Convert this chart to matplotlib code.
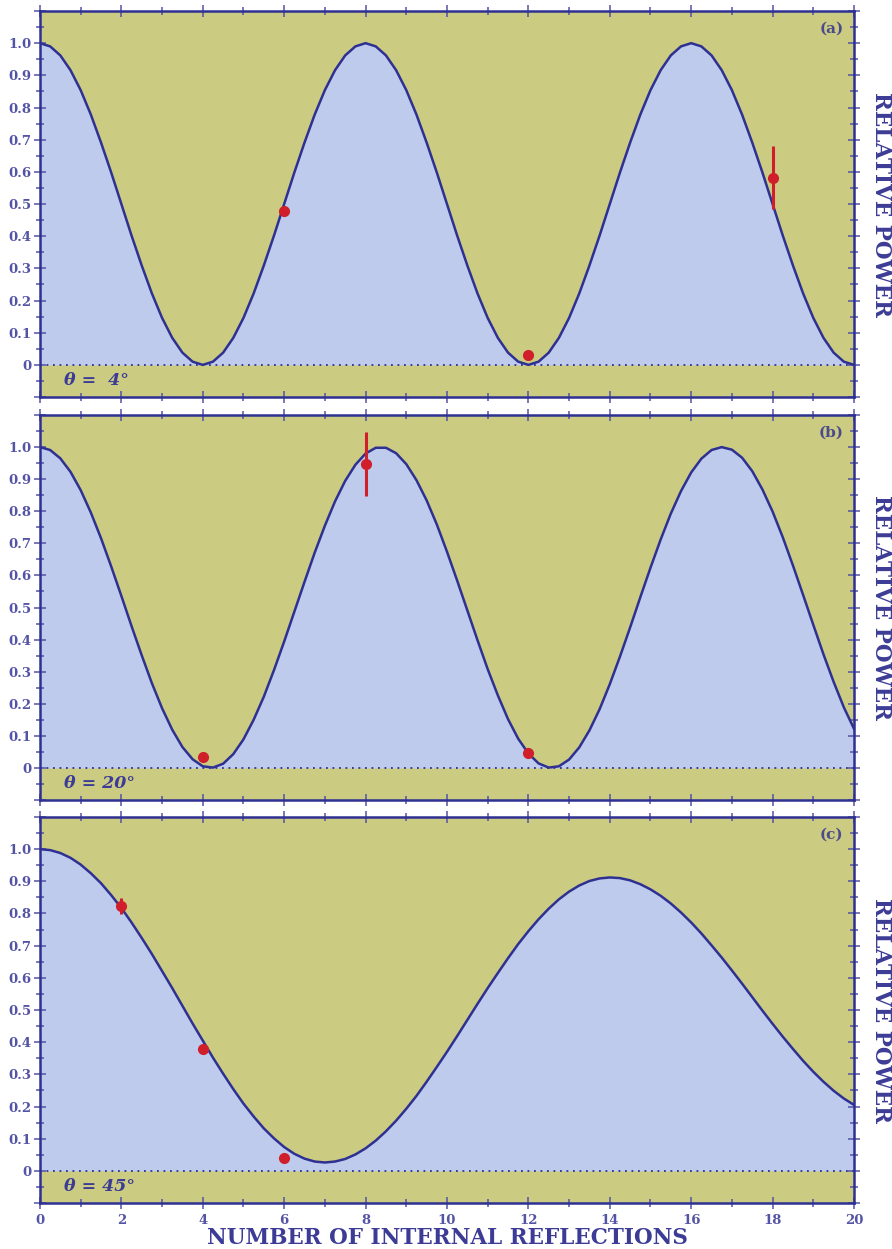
import numpy as np
import matplotlib
matplotlib.use('Agg')
import matplotlib.pyplot as plt
from matplotlib.ticker import MultipleLocator, FixedLocator, FixedFormatter

# number of internal reflections (curve samples, every quarter step)
n_vals = np.linspace(0, 20, 81)

power_a = [1.000, 0.990, 0.962, 0.916, 0.854, 0.778, 0.691, 0.598, 0.500, 0.402,
           0.309, 0.222, 0.146, 0.084, 0.038, 0.010, 0.000, 0.010, 0.038, 0.084,
           0.146, 0.222, 0.309, 0.402, 0.500, 0.598, 0.691, 0.778, 0.854, 0.916,
           0.962, 0.990, 1.000, 0.990, 0.962, 0.916, 0.854, 0.778, 0.691, 0.598,
           0.500, 0.402, 0.309, 0.222, 0.146, 0.084, 0.038, 0.010, 0.000, 0.010,
           0.038, 0.084, 0.146, 0.222, 0.309, 0.402, 0.500, 0.598, 0.691, 0.778,
           0.854, 0.916, 0.962, 0.990, 1.000, 0.990, 0.962, 0.916, 0.854, 0.778,
           0.691, 0.598, 0.500, 0.402, 0.309, 0.222, 0.146, 0.084, 0.038, 0.010,
           0.000]

power_b = [1.000, 0.991, 0.965, 0.923, 0.866, 0.796, 0.716, 0.628, 0.536, 0.442,
           0.351, 0.264, 0.186, 0.119, 0.065, 0.027, 0.005, 0.001, 0.013, 0.043,
           0.089, 0.150, 0.222, 0.305, 0.394, 0.487, 0.580, 0.671, 0.755, 0.831,
           0.895, 0.945, 0.980, 0.998, 0.998, 0.981, 0.947, 0.897, 0.834, 0.759,
           0.674, 0.584, 0.491, 0.398, 0.308, 0.226, 0.152, 0.091, 0.045, 0.014,
           0.001, 0.005, 0.026, 0.064, 0.117, 0.183, 0.261, 0.347, 0.438, 0.532,
           0.624, 0.712, 0.793, 0.863, 0.921, 0.964, 0.991, 1.000, 0.992, 0.967,
           0.925, 0.868, 0.799, 0.719, 0.631, 0.539, 0.446, 0.354, 0.268, 0.189,
           0.122]

power_c = [1.000, 0.997, 0.988, 0.973, 0.952, 0.925, 0.894, 0.857, 0.817, 0.772,
           0.724, 0.674, 0.621, 0.568, 0.513, 0.458, 0.405, 0.352, 0.302, 0.254,
           0.209, 0.169, 0.132, 0.101, 0.074, 0.053, 0.038, 0.029, 0.026, 0.029,
           0.037, 0.051, 0.070, 0.094, 0.123, 0.156, 0.193, 0.233, 0.277, 0.323,
           0.370, 0.419, 0.469, 0.519, 0.568, 0.615, 0.661, 0.705, 0.745, 0.782,
           0.815, 0.844, 0.868, 0.887, 0.901, 0.909, 0.912, 0.910, 0.903, 0.891,
           0.875, 0.855, 0.831, 0.803, 0.772, 0.738, 0.701, 0.663, 0.623, 0.582,
           0.540, 0.498, 0.457, 0.417, 0.379, 0.342, 0.308, 0.277, 0.249, 0.225,
           0.205]

# measured points
meas_n_a = [6, 12, 18]
meas_p_a = [0.477, 0.031, 0.582]
meas_e_a = [0.015, 0.0, 0.097]

meas_n_b = [4, 8, 12]
meas_p_b = [0.033, 0.947, 0.047]
meas_e_b = [0.0, 0.100, 0.0]

meas_n_c = [2, 4, 6]
meas_p_c = [0.823, 0.380, 0.039]
meas_e_c = [0.025, 0.0, 0.0]

panel_tags = ['(a)', '(b)', '(c)']
angle_labels = ['θ =  4°', 'θ = 20°', 'θ = 45°']

y_major = [-0.1, 0, 0.1, 0.2, 0.3, 0.4, 0.5, 0.6, 0.7, 0.8, 0.9, 1.0, 1.1]
y_labels = ['', '0', '0.1', '0.2', '0.3', '0.4', '0.5', '0.6', '0.7', '0.8', '0.9', '1.0', '']

olive = '#CBCB82'
light_blue = '#BECBEC'
navy = '#2E3092'
tick_col = '#5454A6'
text_col = '#3C3C96'
red = '#D01F2A'

plt.rcParams['font.family'] = ['DejaVu Serif']
plt.rcParams['font.weight'] = 'bold'

fig = plt.figure(figsize=(8.92, 12.49), dpi=100)

boxes = [[0.0448, 0.6821, 0.9126, 0.3091],
         [0.0448, 0.3595, 0.9126, 0.3082],
         [0.0448, 0.0368, 0.9126, 0.3091]]

curves = [power_a, power_b, power_c]
points = [(meas_n_a, meas_p_a, meas_e_a),
          (meas_n_b, meas_p_b, meas_e_b),
          (meas_n_c, meas_p_c, meas_e_c)]

for i in range(3):
    ax = fig.add_axes(boxes[i])
    ax.set_facecolor(olive)
    p = curves[i]
    ax.fill_between(n_vals, 0, p, color=light_blue, lw=0, zorder=1)
    ax.plot(n_vals, p, color=navy, lw=1.8, zorder=3, solid_joinstyle='round')
    ax.axhline(0, color=navy, lw=1.3, ls=(0, (1, 2.6)), zorder=2)

    mn, mp, me = points[i]
    ax.errorbar(mn, mp, yerr=me, fmt='o', color=red, ms=7, elinewidth=2.2,
                capsize=0, zorder=5)

    ax.set_xlim(0, 20)
    ax.set_ylim(-0.1, 1.1)

    ax.xaxis.set_major_locator(MultipleLocator(2))
    ax.xaxis.set_minor_locator(MultipleLocator(1))
    ax.yaxis.set_major_locator(FixedLocator(y_major))
    ax.yaxis.set_major_formatter(FixedFormatter(y_labels))
    ax.yaxis.set_minor_locator(MultipleLocator(0.05))

    ax.tick_params(which='both', direction='inout', top=True, right=True,
                   color=tick_col, labelcolor=tick_col, labelsize=9.5)
    ax.tick_params(which='major', length=8.5, width=1.1)
    ax.tick_params(which='minor', length=5.5, width=1.1)
    ax.tick_params(axis='y', pad=2)
    if i < 2:
        ax.tick_params(axis='x', labelbottom=False)

    for s in ax.spines.values():
        s.set_color(navy)
        s.set_linewidth(1.8)

    ax.text(0.6, -0.05, angle_labels[i], fontsize=12.5, fontstyle='italic',
            fontweight='bold', color=text_col, va='center', ha='left')
    ax.text(0.987, 0.953, panel_tags[i], transform=ax.transAxes, fontsize=11,
            fontweight='bold', color='#4B4B8B', ha='right', va='center')
    ax.text(1.0335, 0.5, 'RELATIVE POWER', transform=ax.transAxes, rotation=-90,
            fontsize=15.5, fontweight='bold', color=text_col, ha='center', va='center')

    if i == 2:
        ax.set_xlabel('NUMBER OF INTERNAL REFLECTIONS', fontsize=15.5,
                      fontweight='bold', color=text_col, labelpad=0)

plt.savefig('out.png', dpi=100)
